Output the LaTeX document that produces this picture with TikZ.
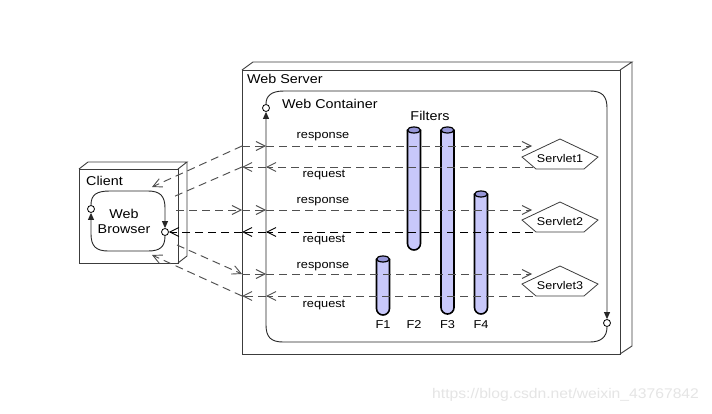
\documentclass[tikz,border=0pt]{standalone}
\usepackage{fontspec}
\setmainfont{Liberation Sans}[FakeStretch=1.12]
\usetikzlibrary{arrows.meta,calc}
\definecolor{cylbody}{RGB}{200,200,250}
\definecolor{cyltop}{RGB}{150,150,215}
\definecolor{edgec}{RGB}{60,60,60}
\definecolor{dashc}{RGB}{80,80,80}
\begin{document}
\begin{tikzpicture}[x=1pt,y=-1pt,
  box/.style={draw=edgec,line width=0.9pt},
  cont/.style={draw=black!85,line width=0.9pt},
  flow/.style={draw=dashc,line width=0.95pt,dash pattern=on 8pt off 5pt},
  chev/.style={-{Straight Barb[length=9pt,width=9pt,line width=0.9pt]}},
  solidarr/.style={-{Triangle[length=7pt,width=6pt]}},
  title/.style={font=\fontsize{12.8}{15}\selectfont, inner sep=0pt},
  lab/.style={font=\fontsize{11.4}{13}\selectfont, inner sep=0pt},
  port/.style={circle,draw=black,fill=white,line width=0.8pt,minimum size=7pt,inner sep=0pt},
  servlet/.style={font=\fontsize{11.2}{13}\selectfont, inner sep=0pt},
  pics/filtercyl/.style={code={
    \path[fill=cylbody,draw=black,line width=1.6pt] (-6.5,3) -- (-6.5,#1-6.5) arc[start angle=180,end angle=0,radius=6.5] -- (6.5,3);
    \path[fill=cyltop,draw=black,line width=1.2pt] (0,3) ellipse[x radius=6.5,y radius=3];
  }},
]
\fill[white] (0,0) rectangle (712,414);
\useasboundingbox (0,0) rectangle (712,414);

% Web server 3D box
\draw[box,fill=white] (242,70) rectangle (620,354);
\draw[box] (242,70) -- (253,62) -- (632,62) -- (620,70);
\draw[box] (632,62) -- (632,346) -- (620,354);

% Client 3D box
\draw[box,fill=white] (79,169) rectangle (178,263);
\draw[box] (79,169) -- (88,162) -- (187,162) -- (178,169);
\draw[box] (187,162) -- (187,256) -- (178,263);

% ports
\node[port] (ctl) at (266,108) {};
\node[port] (cbr) at (607,323) {};
\node[port] (cl) at (91,209) {};
\node[port] (cr) at (165,232) {};

% container loop
\draw[cont,solidarr] (ctl.north) .. controls (266,96) and (271,91) .. (284,91) -- (590,91) .. controls (602,91) and (607,96) .. (607,108) -- (cbr.north);
\draw[cont,solidarr] (cbr.south) .. controls (607,337) and (601,342) .. (590,342) -- (283,342) .. controls (271,342) and (266,337) .. (266,325) -- (ctl.south);

% browser loop
\draw[cont,solidarr] (cl.north) .. controls (91,195) and (96,191) .. (110,191) -- (148,191) .. controls (160,191) and (165,196) .. (165,208) -- (cr.north);
\draw[cont,solidarr] (cr.south) .. controls (165,247) and (160,251) .. (148,251) -- (108,251) .. controls (96,251) and (91,246) .. (91,234) -- (cl.south);

% filters
\pic at (383,256) {filtercyl=59};
\pic at (414,127) {filtercyl=123};
\pic at (447.5,127) {filtercyl=187};
\pic at (481,191) {filtercyl=123};

% labels
\node[title,anchor=west] (ws) at (247,79) {Web Server};
\node[title,anchor=west] (wc) at (282,104) {Web Container};
\node[title] (flt) at (430,116) {Filters};
\node[title,anchor=west] (cli) at (86,181) {Client};
\node[title,align=center] (wb) at (124,221) {Web\\Browser};
\node[lab] (f1) at (383,325) {F1};
\node[lab] (f2) at (414,325) {F2};
\node[lab] (f3) at (447.5,325) {F3};
\node[lab] (f4) at (481,325) {F4};

\node[lab] (rl1) at (323,137) {response};
\node[lab] (ql1) at (324,175) {request};
\node[lab] (rl2) at (323,202) {response};
\node[lab] (ql2) at (324,240) {request};
\node[lab] (rl3) at (323,267) {response};
\node[lab] (ql3) at (324,305) {request};

% servlets
\node[servlet] (s1) at (560,158) {Servlet1};
\node[servlet] (s2) at (560,221) {Servlet2};
\node[servlet] (s3) at (560,285) {Servlet3};
\foreach \s/\y in {s1/157,s2/220,s3/284}{
  \draw[edgec,line width=0.8pt] (560,\y-18) -- (522,\y) -- (536,\y+12) -- (584,\y+12) -- (598,\y) -- cycle;
}

% crossing coordinates
\coordinate (r1s) at (242,146); \coordinate (r1c) at (266,146); \coordinate (r1e) at (532,146);
\coordinate (q1s) at (242,167); \coordinate (q1c) at (266,167); \coordinate (q1e) at (533,167);
\coordinate (r2s) at (242,210); \coordinate (r2c) at (266,210); \coordinate (r2e) at (532,210);
\coordinate (q2s) at (242,232); \coordinate (q2c) at (266,232); \coordinate (q2e) at (533,232);
\coordinate (r3s) at (242,274); \coordinate (r3c) at (266,274); \coordinate (r3e) at (532,274);
\coordinate (q3s) at (242,296); \coordinate (q3c) at (266,296); \coordinate (q3e) at (533,296);
\coordinate (ctop) at (152,187);
\coordinate (cf1) at (173,197);
\coordinate (cf2) at (176,210);
\coordinate (cf3) at (177,245);
\coordinate (cbot) at (152,255);

% row 1
\draw[flow,chev] (r1s) -- (ctop);
\draw[flow,chev] (r1s) -- (r1c);
\draw[flow,chev] (r1c) -- (r1e);
\draw[flow,chev] (q1e) -- (q1c);
\draw[flow,chev] (q1c) -- (q1s);
\draw[flow] (q1s) -- (cf1);
% row 2
\draw[flow,chev] (cf2) -- (r2s);
\draw[flow,chev] (r2s) -- (r2c);
\draw[flow,chev] (r2c) -- (r2e);
\draw[flow,draw=black,chev] (q2e) -- (q2c);
\draw[flow,draw=black,chev] (q2c) -- (q2s);
\draw[flow,draw=black,chev] (q2s) -- (cr.east);
% row 3
\draw[flow,chev] (cf3) -- (r3s);
\draw[flow,chev] (r3s) -- (r3c);
\draw[flow,chev] (r3c) -- (r3e);
\draw[flow,chev] (q3e) -- (q3c);
\draw[flow,chev] (q3c) -- (q3s);
\draw[flow,chev] (q3s) -- (cbot);

% watermark
\node[font=\fontsize{14}{16}\selectfont,text=black!10,anchor=west,inner sep=0pt] (wm) at (432,395) {https://blog.csdn.net/weixin\_43767842};
\end{tikzpicture}
\end{document}
